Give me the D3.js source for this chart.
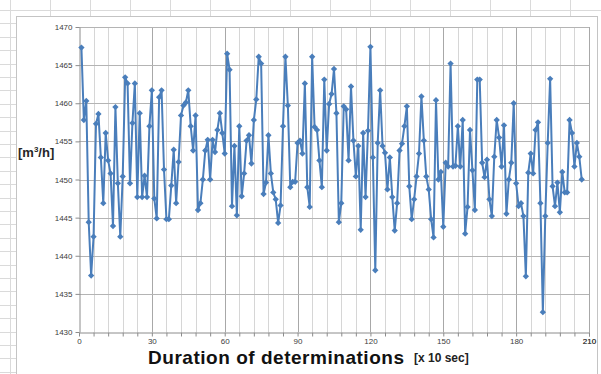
<!DOCTYPE html>
<html>
<head>
<meta charset="utf-8">
<script src="https://cdn.jsdelivr.net/npm/d3@7"></script>
<style>
  body { margin: 0; background: #fff; }
  svg { display: block; font-family: "Liberation Sans", Arial, sans-serif; }
</style>
</head>
<body>
<svg id="chart" width="601" height="374"></svg>
<script>
// Flow rate readings, one every 10 s (sample numbers start at 1)
const flowRate = [
  1467.3, 1457.8, 1460.3, 1444.4, 1437.4, 1442.5, 1457.3, 1458.6, 1452.9, 1446.9,
  1456.1, 1452.5, 1450.8, 1443.9, 1459.5, 1449.5, 1442.5, 1450.4, 1463.4, 1462.6,
  1449.5, 1457.4, 1462.6, 1447.7, 1458.7, 1447.7, 1450.5, 1447.7, 1457.0, 1461.7,
  1447.5, 1444.9, 1460.8, 1461.7, 1451.3, 1444.8, 1444.8, 1449.2, 1453.9, 1446.9,
  1452.3, 1458.4, 1459.7, 1460.1, 1461.7, 1457.0, 1453.8, 1458.4, 1446.0, 1446.9,
  1450.0, 1453.8, 1455.2, 1450.0, 1455.2, 1453.6, 1456.5, 1458.7, 1456.1, 1453.4,
  1466.5, 1464.4, 1446.5, 1454.4, 1445.3, 1457.0, 1447.8, 1450.8, 1455.1, 1455.8,
  1452.1, 1457.8, 1460.5, 1466.1, 1465.2, 1448.1, 1449.6, 1455.8, 1450.8, 1448.3,
  1447.4, 1444.3, 1446.6, 1457.0, 1466.1, 1459.7, 1449.0, 1449.7, 1449.7, 1454.8,
  1455.1, 1453.4, 1462.6, 1449.0, 1446.4, 1466.1, 1456.9, 1456.5, 1452.5, 1449.0,
  1463.1, 1453.8, 1459.9, 1461.2, 1464.5, 1458.7, 1444.4, 1446.9, 1459.6, 1459.2,
  1452.5, 1462.2, 1455.1, 1450.4, 1454.4, 1443.4, 1456.1, 1447.7, 1456.4, 1467.4,
  1452.9, 1438.1, 1454.8, 1461.7, 1454.4, 1453.5, 1448.7, 1452.9, 1447.7, 1443.3,
  1446.9, 1453.8, 1454.7, 1457.0, 1459.6, 1449.1, 1444.8, 1447.4, 1450.4, 1453.4,
  1460.9, 1455.1, 1450.4, 1448.7, 1444.8, 1442.4, 1460.4, 1450.0, 1451.0, 1443.8,
  1452.2, 1451.7, 1465.2, 1451.7, 1451.8, 1457.0, 1451.7, 1457.8, 1442.9, 1446.4,
  1456.5, 1451.2, 1446.0, 1463.1, 1463.1, 1452.2, 1450.3, 1452.6, 1447.4, 1445.2,
  1453.0, 1457.8, 1455.5, 1451.7, 1457.1, 1445.5, 1450.0, 1452.2, 1460.0, 1449.5,
  1446.5, 1446.9, 1445.2, 1437.3, 1450.9, 1453.4, 1450.8, 1456.5, 1457.5, 1446.9,
  1432.6, 1445.2, 1454.8, 1463.2, 1449.1, 1446.5, 1449.6, 1445.7, 1451.0, 1448.3,
  1448.3, 1457.8, 1456.1, 1451.7, 1454.8, 1453.0, 1450.0
];
const firstSample = 1;

// Axis ticks
const yTickValues = [1430, 1435, 1440, 1445, 1450, 1455, 1460, 1465, 1470];
const xLabelValues = [0, 30, 60, 90, 120, 150, 180, 210];
const xMinorStep = 6;

const xTitle = "Duration of determinations";
const xUnit = "[x 10 sec]";

const series = flowRate.map((v, i) => ({ t: firstSample + i, v }));

const svg = d3.select("#chart");
const lineColor = "#4a7ebb";

// Spreadsheet cells peeking out around the chart object
const sheet = svg.append("g").attr("stroke", "#dadada").attr("stroke-width", 1);
d3.range(10, 601, 40).forEach(x => {
  sheet.append("line").attr("x1", x + 0.5).attr("x2", x + 0.5).attr("y1", 0).attr("y2", 16);
});
sheet.append("line").attr("x1", 10.5).attr("x2", 10.5).attr("y1", 0).attr("y2", 374);
d3.range(10, 374, 13.4).forEach(y => {
  const yy = Math.round(y) + 0.5;
  sheet.append("line").attr("x1", 0).attr("x2", yy < 17 ? 601 : 16).attr("y1", yy).attr("y2", yy);
});

// Chart object frame
svg.append("rect")
  .attr("x", 16.5).attr("y", 16.5).attr("width", 581).attr("height", 380)
  .attr("fill", "#fff").attr("stroke", "#c4c4c4");

const x = d3.scaleLinear().domain([0, 210]).range([79, 589]);
const y = d3.scaleLinear().domain([1430, 1470]).range([332, 27]);

// Vertical gridlines: minor every 6, heavier every 30
const vGrid = svg.append("g");
d3.range(0, 211, xMinorStep).forEach(t => {
  if (t === 0) return;
  vGrid.append("line")
    .attr("x1", Math.round(x(t)) + 0.5).attr("x2", Math.round(x(t)) + 0.5)
    .attr("y1", y(1470)).attr("y2", y(1430))
    .attr("stroke", t % 30 === 0 ? "#a8a8a8" : "#d6d6d6");
});
// Horizontal gridlines
svg.append("g")
  .selectAll("line")
  .data(yTickValues.filter(v => v > 1430))
  .join("line")
  .attr("x1", x(0)).attr("x2", x(210))
  .attr("y1", d => Math.round(y(d)) + 0.5).attr("y2", d => Math.round(y(d)) + 0.5)
  .attr("stroke", "#b4b4b4");

// Y axis
const yAxis = svg.append("g")
  .attr("transform", `translate(${Math.round(x(0)) + 0.5},0)`)
  .call(d3.axisLeft(y).tickValues(yTickValues).tickSize(4).tickSizeOuter(0).tickPadding(3)
    .tickFormat(d3.format("d")));
// X axis
const xAxis = svg.append("g")
  .attr("transform", `translate(0,${Math.round(y(1430)) + 0.5})`)
  .call(d3.axisBottom(x).tickValues(d3.range(0, 211, xMinorStep).concat([210]))
    .tickSize(4).tickSizeOuter(0).tickPadding(2)
    .tickFormat(d => xLabelValues.includes(d) ? d3.format("d")(d) : ""));

[yAxis, xAxis].forEach(g => {
  g.select(".domain").attr("stroke", "#8c8c8c");
  g.selectAll(".tick line").attr("stroke", "#8c8c8c");
  g.selectAll(".tick text").attr("fill", "#404040")
    .style("font-size", "8px").style("font-family", "'Liberation Sans', Arial, sans-serif");
});

// Series line with diamond markers
svg.append("path")
  .datum(series)
  .attr("fill", "none")
  .attr("stroke", lineColor)
  .attr("stroke-width", 2)
  .attr("stroke-linejoin", "round")
  .attr("d", d3.line().x(d => x(d.t)).y(d => y(d.v)));

svg.append("g")
  .selectAll("path")
  .data(series)
  .join("path")
  .attr("d", d3.symbol(d3.symbolSquare, 20))
  .attr("transform", d => `translate(${x(d.t)},${y(d.v)}) rotate(45)`)
  .attr("fill", lineColor);

// Axis titles
const yTitle = svg.append("text")
  .attr("x", 18).attr("y", 157)
  .attr("fill", "#262626")
  .style("font-size", "13px").style("font-weight", "bold");
yTitle.append("tspan").text("[m");
yTitle.append("tspan").text("3").attr("dy", -5).style("font-size", "8px");
yTitle.append("tspan").text("/h]").attr("dy", 5);

svg.append("text")
  .attr("x", 148).attr("y", 364)
  .attr("fill", "#111")
  .style("font-size", "19px").style("font-weight", "bold")
  .attr("textLength", 256).attr("lengthAdjust", "spacing")
  .text(xTitle);
svg.append("text")
  .attr("x", 414).attr("y", 362)
  .attr("fill", "#222")
  .style("font-size", "12px").style("font-weight", "bold")
  .text(xUnit);
</script>
</body>
</html>
